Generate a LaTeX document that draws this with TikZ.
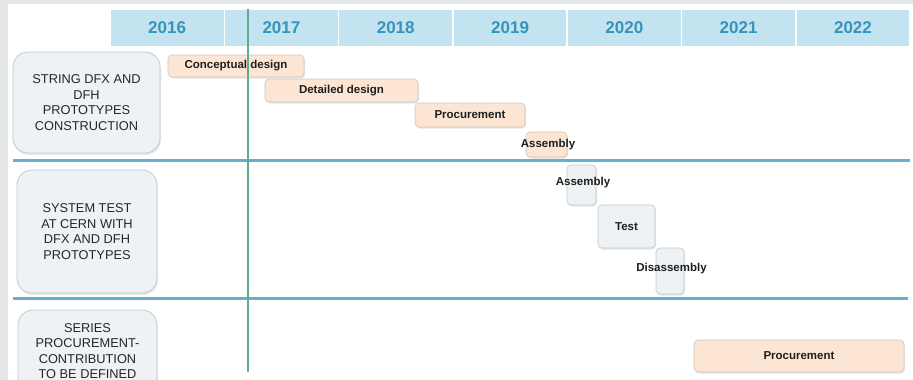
\documentclass[tikz,border=0pt]{standalone}
\usepackage{fontspec}
\setmainfont{Liberation Sans}
\usetikzlibrary{shadows}

\definecolor{hdrblue}{RGB}{194,227,239}
\definecolor{yrteal}{RGB}{52,150,186}
\definecolor{sepblue}{RGB}{104,176,202}
\definecolor{nowgreen}{RGB}{96,172,142}
\definecolor{peach}{RGB}{252,230,211}
\definecolor{peachline}{RGB}{208,198,188}
\definecolor{paleblue}{RGB}{239,242,245}
\definecolor{paleline}{RGB}{186,204,212}
\definecolor{framegrey}{RGB}{228,229,230}

\begin{document}
\begin{tikzpicture}[x=1pt, y=-1pt,
    year/.style = {rectangle, fill=hdrblue, draw=white, line width=1.5pt,
                   minimum width=114.3pt, minimum height=38pt, text=yrteal,
                   font=\fontsize{17}{20}\selectfont\bfseries},
    phase/.style = {rectangle, rounded corners=15pt, draw=paleline, fill=paleblue,
                    line width=0.8pt, align=center, text=black!85,
                    font=\fontsize{12.8}{15.5}\selectfont,
                    drop shadow={shadow xshift=1pt, shadow yshift=-2pt, opacity=0.18}},
    task/.style = {rectangle, rounded corners=4pt, draw=peachline, fill=peach,
                   line width=0.6pt, inner sep=0pt, text=black!88,
                   font=\fontsize{11.5}{13}\selectfont\bfseries,
                   drop shadow={shadow xshift=1pt, shadow yshift=-1.5pt, opacity=0.2}},
    test/.style = {task, draw=paleline, fill=paleblue},
    tasktext/.style = {font=\fontsize{11.5}{13}\selectfont\bfseries, text=black!88},
    sep/.style = {draw=sepblue, line width=3pt}]

  \clip (0,0) rectangle (913,380);
  \fill[framegrey] (0,0) rectangle (913,380);
  \fill[white] (8,4) rectangle (913,380);

  % year header
  \foreach \yr [count=\i from 0] in {2016,2017,2018,2019,2020,2021,2022}
    \node [year] (y\yr) at (167.15+114.3*\i, 28) {\yr};

  % row separators
  \coordinate (s1a) at (13,160.5); \coordinate (s1b) at (910,160.5);
  \coordinate (s2a) at (13,298);   \coordinate (s2b) at (908,298);
  \draw [sep] (s1a) -- (s1b);
  \draw [sep] (s2a) -- (s2b);

  % work packages
  \node [phase, minimum width=147pt, minimum height=101pt] (wp1) at (86.5,102.5)
        {STRING DFX AND\\DFH\\PROTOTYPES\\CONSTRUCTION};
  \node [phase, minimum width=140pt, minimum height=123pt] (wp2) at (87,231.5)
        {SYSTEM TEST\\AT CERN WITH\\DFX AND DFH\\PROTOTYPES};
  \node [phase, minimum width=139pt, minimum height=82pt] (wp3) at (87.5,351)
        {SERIES\\PROCUREMENT-\\CONTRIBUTION\\TO BE DEFINED};

  % tasks
  \node [task, minimum width=136pt, minimum height=22pt] (cd) at (236,66) {Conceptual design};
  \node [task, minimum width=153pt, minimum height=23pt] (dd) at (341.5,90.5) {Detailed design};
  \node [task, minimum width=110pt, minimum height=24pt] (pr1) at (470,115) {Procurement};
  \node [task, minimum width=41pt, minimum height=25pt] (as1) at (546.5,144.5) {};
  \node [tasktext] at (548,145) {Assembly};

  \node [test, minimum width=29pt, minimum height=40pt] (as2) at (581.5,185) {};
  \node [tasktext] at (583,183) {Assembly};
  \node [test, minimum width=57pt, minimum height=43pt] (tst) at (626.5,226.5) {Test};
  \node [test, minimum width=28pt, minimum height=46pt] (dis) at (670,271) {};
  \node [tasktext] at (671.5,269) {Disassembly};

  \node [task, minimum width=210pt, minimum height=32pt] (pr2) at (799,356) {Procurement};

  % today
  \coordinate (now1) at (248,9);
  \coordinate (now2) at (248,372);
  \draw [nowgreen, line width=1.2pt] (now1) -- (now2);
\end{tikzpicture}
\end{document}
